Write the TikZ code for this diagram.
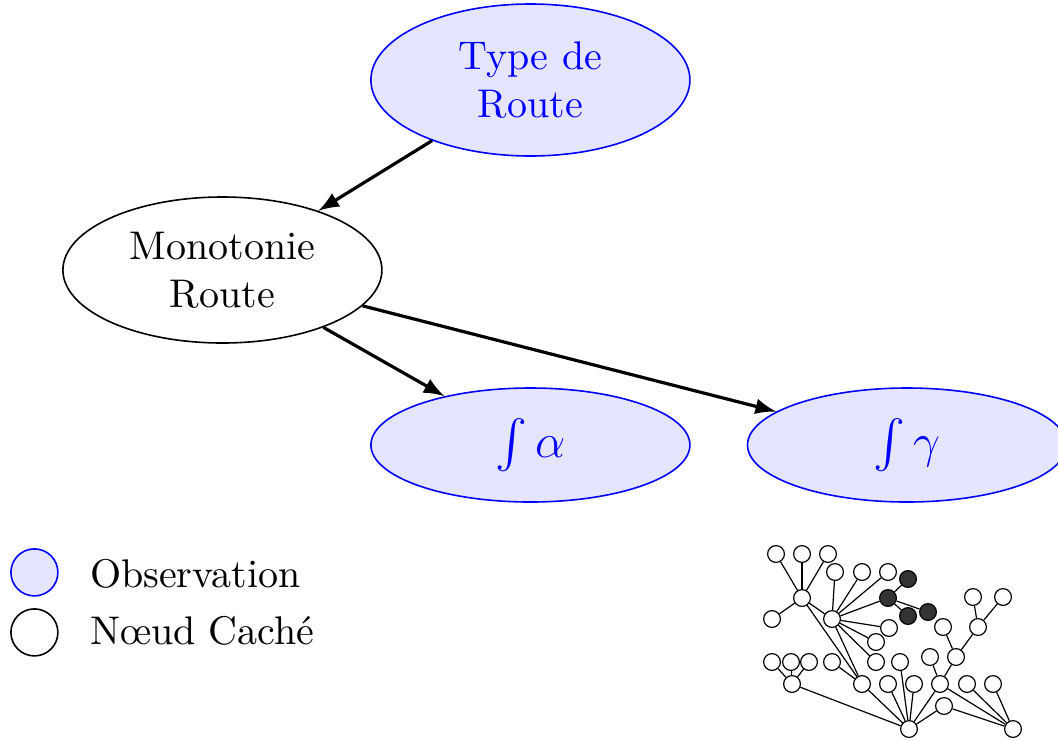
\documentclass[tikz,border=0pt]{standalone}
\usepackage{amsmath, amssymb}
\usepackage{xcolor}
\usepackage{tikz}
\usetikzlibrary{shapes, arrows, positioning}
\tikzset{
    observed/.style={
        ellipse,
        draw=blue,
        fill=blue!10,
        text=blue,
        align=center,
        inner sep=0pt,
        minimum width=79.75pt,
    },
    hidden/.style={
        ellipse,
        draw=black,
        fill=white,
        align=center,
        inner sep=0pt,
        minimum width=79.75pt,
    },
    legobs/.style={
        circle,
        draw=blue,
        fill=blue!10,
        minimum size=11.75pt,
    },
    leghid/.style={
        circle,
        draw=black,
        fill=white,
        minimum size=11.75pt,
    },
    tnode/.style={
        circle,
        draw=black,
        fill=white,
        inner sep=0pt,
        minimum size=4.2pt,
    },
    tdark/.style={
        tnode,
        fill=black!80,
    },
}

\begin{document}
\begin{tikzpicture}[->, >=latex, node distance=2cm, on grid, auto]
      \useasboundingbox (0,0) rectangle (264.5pt,-185pt);

      \node[observed, minimum height=38pt] (type) at (132.6pt,-20pt) {Type de\\Route};

      \node[hidden, minimum height=36.5pt, below left=47.5pt and 77pt of type] (mono) {Monotonie\\Route};

      \node[observed, minimum height=28.5pt, font=\large, below right=43.75pt and 77pt of mono] (alpha) {$\int \alpha$};

      \node[observed, minimum height=28.5pt, font=\large, right=94.15pt of alpha] (gamma) {$\int \gamma$};

      \draw (type) edge[thick] (mono);
      \draw (mono) edge[thick] (alpha);
      \draw (mono) edge[thick] (gamma);

      % legende
      \node[legobs] (lobs) at (8.6pt,-143.1pt) {};
      \node[leghid] (lhid) at (8.6pt,-158.1pt) {};
      \node[anchor=base west, inner sep=0pt] (tobs) at (22.3pt,-146.75pt) {Observation};
      \node[anchor=base west, inner sep=0pt] (thid) at (22.3pt,-161pt) {N\oe ud Caché};

      % petit graphe
      \begin{scope}[-, x=0.25pt, y=-0.25pt, line width=0.3pt]
        \foreach \n/\x/\y in {a1/776/554, a2/802/554, a3/828/554,
            b1/835/572, b2/862/572, b3/888/572, tA/802/598, c1/772/619,
            tB/832/619, e1/973/597, e2/1003/597, f1/889/628, f2/876/642,
            g1/943/627, g2/978/627, h1/772/662, h2/791/662, h3/809/662,
            h4/832/662, h5/876/662, h6/900/662, h7/930/657, h8/956/657,
            i1/792/684, i2/862/684, i3/888/684, i4/914/684, i5/940/684,
            i6/967/684, i7/993/684, j1/944/706, r1/909/729, r2/1013/729}
          \node[tnode] (\n) at (\x,\y) {};
        \foreach \n/\x/\y in {d0/888/598, d1/908/579, d2/908/616, d3/928/612}
          \node[tdark] (\n) at (\x,\y) {};

        \foreach \u/\v in {tA/a1, tA/a2, tA/a3, tA/c1, tA/tB, tA/i2,
            tB/b1, tB/b2, tB/b3, tB/d0, tB/f1, tB/f2, tB/h5, tB/i2,
            d0/d1, d0/d2, d0/d3, g1/h8, g2/e1, g2/e2, g2/h8, h8/i5, h7/i5,
            i1/h1, i1/h2, i1/h3, i1/r1, h4/i2, i2/r1, i3/r1, i4/r1, h6/r1,
            i5/r1, j1/r1, j1/r2, i5/r2, i6/r2, i7/r2}
          \draw (\u) -- (\v);
      \end{scope}
    \end{tikzpicture}
\end{document}
